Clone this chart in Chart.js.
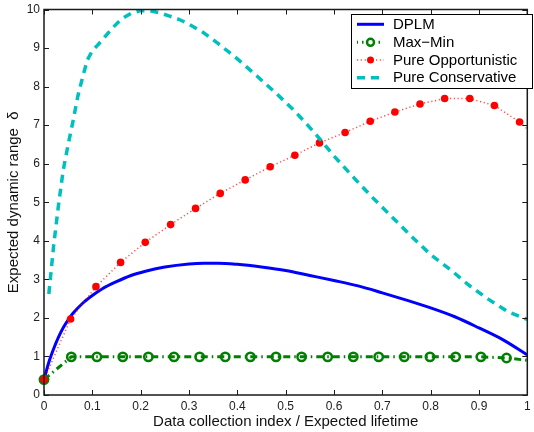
<!DOCTYPE html>
<html>
<head>
<meta charset="utf-8">
<script src="https://cdn.jsdelivr.net/npm/chart.js@4.4.1/dist/chart.umd.min.js"></script>
<style>
  html, body { margin: 0; padding: 0; background: #ffffff; }
  #wrap { width: 534px; height: 432px; position: relative; }
</style>
</head>
<body>
<div id="wrap"><canvas id="c" width="534" height="432"></canvas></div>
<script>
// Tick positions and labels
const xTickValues = [0, 0.1, 0.2, 0.3, 0.4, 0.5, 0.6, 0.7, 0.8, 0.9, 1];
const xTickLabels = ['0', '0.1', '0.2', '0.3', '0.4', '0.5', '0.6', '0.7', '0.8', '0.9', '1'];
const yTickValues = [0, 1, 2, 3, 4, 5, 6, 7, 8, 9, 10];
const yTickLabels = ['0', '1', '2', '3', '4', '5', '6', '7', '8', '9', '10'];

// DPLM
const dplmX = [0, 0.01, 0.02, 0.03, 0.04, 0.05, 0.06, 0.08, 0.10, 0.12, 0.15, 0.18, 0.21, 0.25, 0.30, 0.33, 0.36, 0.40, 0.45, 0.50, 0.55, 0.60, 0.65, 0.70, 0.75, 0.80, 0.85, 0.90, 0.95, 1.0];
const dplmY = [0.40, 0.85, 1.20, 1.50, 1.75, 1.95, 2.12, 2.38, 2.58, 2.75, 2.94, 3.10, 3.21, 3.32, 3.40, 3.42, 3.42, 3.39, 3.32, 3.23, 3.10, 2.97, 2.83, 2.65, 2.46, 2.26, 2.03, 1.74, 1.43, 1.04];

// Max-Min
const maxMinX = [0, 0.0565, 0.1095, 0.163, 0.216, 0.269, 0.322, 0.375, 0.427, 0.480, 0.533, 0.587, 0.640, 0.6925, 0.7455, 0.7986, 0.8517, 0.904, 0.957, 1.0];
const maxMinY = [0.40, 0.99, 0.99, 0.99, 0.99, 0.99, 0.99, 0.99, 0.99, 0.99, 0.99, 0.99, 0.99, 0.99, 0.99, 0.99, 0.99, 0.99, 0.96, 0.90];

// Pure Opportunistic
const oppX = [0, 0.055, 0.1075, 0.1585, 0.2095, 0.262, 0.3136, 0.3646, 0.4163, 0.468, 0.519, 0.570, 0.623, 0.675, 0.726, 0.778, 0.829, 0.881, 0.932, 0.984, 1.0];
const oppY = [0.40, 1.97, 2.81, 3.44, 3.96, 4.42, 4.84, 5.23, 5.58, 5.92, 6.22, 6.54, 6.81, 7.10, 7.34, 7.55, 7.69, 7.69, 7.51, 7.08, 6.90];

// Pure Conservative
const consX = [0.01, 0.02, 0.03, 0.04, 0.05, 0.06, 0.07, 0.08, 0.09, 0.10, 0.12, 0.14, 0.16, 0.18, 0.20, 0.22, 0.24, 0.26, 0.28, 0.30, 0.33, 0.36, 0.40, 0.44, 0.48, 0.52, 0.56, 0.60, 0.64, 0.68, 0.72, 0.76, 0.80, 0.84, 0.88, 0.92, 0.96, 1.0];
const consY = [2.62, 3.88, 4.93, 5.85, 6.50, 7.10, 7.75, 8.25, 8.70, 8.93, 9.20, 9.50, 9.75, 9.90, 9.97, 9.97, 9.91, 9.83, 9.74, 9.62, 9.40, 9.12, 8.72, 8.28, 7.83, 7.35, 6.80, 6.20, 5.65, 5.12, 4.62, 4.12, 3.64, 3.26, 2.84, 2.48, 2.16, 1.96];

const seriesNames = ['DPLM', 'Max\u2212Min', 'Pure Opportunistic', 'Pure Conservative'];

const toPoints = (xs, ys) => xs.map((x, i) => ({ x: x, y: ys[i] }));
const markerRadii = (n, r) => Array.from({ length: n }, (_, i) => (i === n - 1 ? 0 : r));

const FONT = '"Liberation Sans", Arial, Helvetica, sans-serif';

// Frame with inward tick marks on all four sides
const framePlugin = {
  id: 'frame',
  afterDatasetsDraw(chart) {
    const { ctx, chartArea: a, scales: { x, y } } = chart;
    const tl = 5;
    ctx.save();
    ctx.strokeStyle = '#1a1a1a';
    ctx.lineWidth = 1.5;
    ctx.setLineDash([]);
    ctx.strokeRect(a.left, a.top, a.right - a.left, a.bottom - a.top);
    ctx.lineWidth = 1;
    ctx.beginPath();
    xTickValues.forEach(v => {
      const px = Math.round(x.getPixelForValue(v)) + 0.5;
      ctx.moveTo(px, a.bottom); ctx.lineTo(px, a.bottom - tl);
      ctx.moveTo(px, a.top); ctx.lineTo(px, a.top + tl);
    });
    yTickValues.forEach(v => {
      const py = Math.round(y.getPixelForValue(v)) + 0.5;
      ctx.moveTo(a.left, py); ctx.lineTo(a.left + tl, py);
      ctx.moveTo(a.right, py); ctx.lineTo(a.right - tl, py);
    });
    ctx.stroke();
    ctx.restore();
  }
};

// Boxed legend in the upper right of the plot
const boxLegendPlugin = {
  id: 'boxLegend',
  afterDraw(chart) {
    const ctx = chart.ctx;
    const box = { l: 351.5, t: 14.5, r: 532.5, b: 88.5 };
    const rows = [24.3, 42.3, 60, 77.7];
    ctx.save();
    ctx.fillStyle = '#ffffff';
    ctx.fillRect(box.l, box.t, box.r - box.l, box.b - box.t);
    ctx.strokeStyle = '#000000';
    ctx.lineWidth = 1;
    ctx.setLineDash([]);
    ctx.strokeRect(box.l, box.t, box.r - box.l, box.b - box.t);
    chart.data.datasets.forEach((ds, i) => {
      const yy = rows[i];
      ctx.save();
      ctx.strokeStyle = ds.borderColor;
      ctx.lineWidth = ds.borderWidth;
      ctx.setLineDash(ds.borderDash || []);
      ctx.lineDashOffset = ds.legendDashOffset || 0;
      ctx.beginPath();
      ctx.moveTo(357, yy);
      ctx.lineTo(384, yy);
      ctx.stroke();
      ctx.setLineDash([]);
      if (ds.legendMarker) {
        ctx.beginPath();
        ctx.arc(370.5, yy, ds.legendMarker, 0, Math.PI * 2);
        if (ds.pointBorderWidth && ds.pointBackgroundColor === 'rgba(0,0,0,0)') {
          ctx.fillStyle = '#ffffff';
          ctx.fill();
          ctx.lineWidth = ds.pointBorderWidth;
          ctx.strokeStyle = ds.pointBorderColor;
          ctx.stroke();
        } else {
          ctx.fillStyle = ds.pointBackgroundColor;
          ctx.fill();
        }
      }
      ctx.restore();
      ctx.fillStyle = '#000000';
      ctx.font = '15px ' + FONT;
      ctx.textBaseline = 'middle';
      ctx.textAlign = 'left';
      ctx.fillText(seriesNames[i], 393, yy + 0.5);
    });
    ctx.restore();
  }
};

new Chart(document.getElementById('c'), {
  type: 'line',
  data: {
    datasets: [
      {
        label: seriesNames[0],
        data: toPoints(dplmX, dplmY),
        borderColor: '#0000ff',
        borderWidth: 3,
        pointRadius: 0,
        cubicInterpolationMode: 'monotone',
        order: 4,
        clip: false
      },
      {
        label: seriesNames[1],
        data: toPoints(maxMinX, maxMinY),
        borderColor: '#008000',
        borderWidth: 3,
        borderDash: [7, 4, 1.5, 4],
        legendDashOffset: 6,
        pointStyle: 'circle',
        pointRadius: markerRadii(maxMinX.length, 4.2),
        pointBorderWidth: 2.5,
        pointBorderColor: '#008000',
        pointBackgroundColor: 'rgba(0,0,0,0)',
        legendMarker: 3.5,
        order: 3,
        clip: false
      },
      {
        label: seriesNames[2],
        data: toPoints(oppX, oppY),
        borderColor: 'rgba(255,0,0,0.7)',
        borderWidth: 1.5,
        borderDash: [1.2, 2.6],
        pointStyle: 'circle',
        pointRadius: markerRadii(oppX.length, 3.8),
        pointBorderWidth: 0,
        pointBackgroundColor: '#ff0000',
        pointBorderColor: '#ff0000',
        legendMarker: 3.5,
        order: 2,
        clip: false
      },
      {
        label: seriesNames[3],
        data: toPoints(consX, consY),
        borderColor: '#00bfbf',
        borderWidth: 3.5,
        borderDash: [8, 6],
        pointRadius: 0,
        order: 1,
        clip: false
      }
    ]
  },
  options: {
    responsive: false,
    animation: false,
    devicePixelRatio: 1,
    layout: { padding: { top: 9.5, right: 0, left: 0, bottom: 0 } },
    plugins: {
      legend: { display: false },
      tooltip: { enabled: false }
    },
    elements: { line: { tension: 0 } },
    scales: {
      x: {
        type: 'linear',
        min: 0,
        max: 1,
        grid: { display: false, drawTicks: false, tickLength: 0 },
        border: { display: false },
        afterBuildTicks: s => { s.ticks = xTickValues.map(v => ({ value: v })); },
        afterFit: s => { s.height = 37; s.paddingLeft = 0; s.paddingRight = 0; },
        ticks: {
          autoSkip: false,
          maxRotation: 0,
          padding: 4,
          color: '#222222',
          font: { family: FONT, size: 12 },
          callback: (v, i) => xTickLabels[i]
        },
        title: {
          display: true,
          text: 'Data collection index / Expected lifetime',
          color: '#111111',
          font: { family: FONT, size: 15 },
          padding: { top: 0, bottom: 1 }
        }
      },
      y: {
        type: 'linear',
        min: 0,
        max: 10,
        grid: { display: false, drawTicks: false, tickLength: 0 },
        border: { display: false },
        afterBuildTicks: s => { s.ticks = yTickValues.map(v => ({ value: v })); },
        afterFit: s => { s.width = 44; s.paddingTop = 0; s.paddingBottom = 0; },
        ticks: {
          autoSkip: false,
          padding: 4,
          color: '#222222',
          font: { family: FONT, size: 12 },
          callback: (v, i) => yTickLabels[i]
        },
        title: {
          display: true,
          text: 'Expected dynamic range  \u03b4',
          color: '#111111',
          font: { family: FONT, size: 15 },
          padding: { top: 5, bottom: 0 }
        }
      }
    }
  },
  plugins: [framePlugin, boxLegendPlugin]
});
</script>
</body>
</html>
